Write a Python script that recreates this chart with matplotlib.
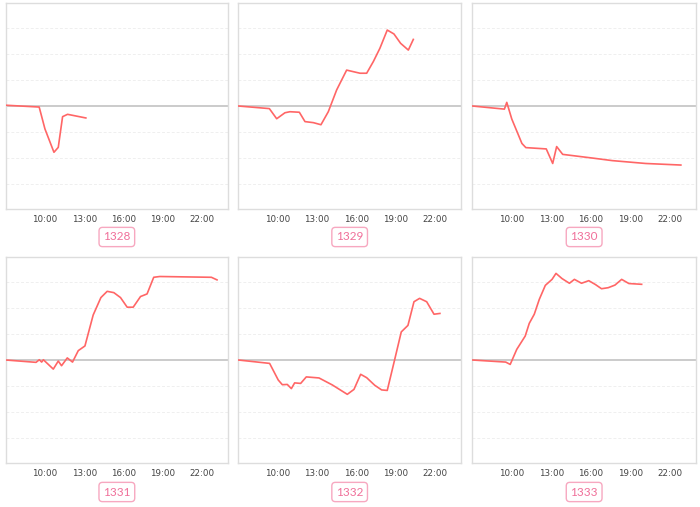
import matplotlib
matplotlib.use("Agg")
import matplotlib.pyplot as plt

labels = ["1328", "1329", "1330", "1331", "1332", "1333"]

t1 = [7.0, 9.56, 10.0, 10.69, 11.02, 11.35, 11.73, 13.13]
v1 = [0.03, -0.04, -0.88, -1.78, -1.59, -0.41, -0.32, -0.46]

t2 = [7.0, 9.37, 9.93, 10.56, 10.94, 11.66, 12.09, 12.73, 13.31, 13.87, 14.51, 15.27,
      16.29, 16.80, 17.31, 17.81, 18.37, 18.88, 19.39, 19.98, 20.36]
v2 = [0.0, -0.10, -0.49, -0.26, -0.22, -0.24, -0.60, -0.64, -0.72, -0.22, 0.62, 1.38,
      1.26, 1.26, 1.71, 2.22, 2.92, 2.77, 2.41, 2.15, 2.56]

t3 = [7.0, 9.44, 9.62, 10.0, 10.77, 11.07, 12.62, 13.11, 13.41, 13.87, 16.11, 17.64, 20.18, 22.85]
v3 = [0.0, -0.12, 0.14, -0.5, -1.44, -1.60, -1.65, -2.21, -1.56, -1.86, -2.0, -2.10, -2.21, -2.27]

t4 = [7.0, 9.32, 9.57, 9.75, 9.88, 10.64, 11.02, 11.27, 11.71, 12.11, 12.55, 13.06, 13.69,
      14.28, 14.76, 15.27, 15.78, 16.29, 16.75, 17.31, 17.81, 18.32, 18.78, 22.73, 23.16]
v4 = [0.0, -0.09, 0.01, -0.08, 0.01, -0.35, -0.04, -0.22, 0.08, -0.08, 0.36, 0.54, 1.73,
      2.40, 2.64, 2.59, 2.40, 2.03, 2.03, 2.44, 2.54, 3.18, 3.21, 3.18, 3.08]

t5 = [7.0, 9.39, 9.72, 10.05, 10.36, 10.74, 11.05, 11.30, 11.76, 12.19, 13.16, 14.18, 15.32,
      15.83, 16.34, 16.80, 17.41, 17.94, 18.37, 18.93, 19.44, 19.95, 20.41, 20.84, 21.38,
      21.94, 22.39]
v5 = [0.0, -0.13, -0.45, -0.77, -0.95, -0.94, -1.10, -0.88, -0.90, -0.65, -0.69, -0.96, -1.32,
      -1.13, -0.55, -0.68, -0.97, -1.15, -1.17, 0.0, 1.08, 1.33, 2.24, 2.37, 2.24,
      1.76, 1.79]

t6 = [7.0, 9.54, 9.88, 10.38, 11.02, 11.33, 11.71, 12.09, 12.55, 13.06, 13.36, 13.82, 14.38,
      14.76, 15.30, 15.85, 16.36, 16.82, 17.33, 17.84, 18.35, 18.90, 19.87]
v6 = [0.0, -0.08, -0.17, 0.41, 0.92, 1.41, 1.76, 2.33, 2.87, 3.10, 3.33, 3.13, 2.95,
      3.10, 2.95, 3.05, 2.90, 2.74, 2.78, 2.88, 3.10, 2.94, 2.91]

series = [(t1, v1), (t2, v2), (t3, v3), (t4, v4), (t5, v5), (t6, v6)]
tick_hours = [10, 13, 16, 19, 22]
tick_labels = ["10:00", "13:00", "16:00", "19:00", "22:00"]

W, H = 700, 507
fig = plt.figure(figsize=(7, 5.07), dpi=100)
fig.patch.set_facecolor("white")

lefts = [5.7, 238.3, 472.3]
rights = [228.0, 461.0, 696.0]
tops = [3.0, 257.0]
bottoms = [209.0, 463.0]
label_y = [237.0, 492.0]

line_color = "#ff6666"

for i, (t, v) in enumerate(series):
    r, c = divmod(i, 3)
    l, rr = lefts[c], rights[c]
    tp, bt = tops[r], bottoms[r]
    ax = fig.add_axes([l / W, 1 - bt / H, (rr - l) / W, (bt - tp) / H])
    ax.set_xlim(7, 24)
    ax.set_ylim(-3.96, 3.96)
    for g in [-3, -2, -1, 1, 2, 3]:
        ax.axhline(g, color="#efefef", lw=0.7, ls=(0, (3, 2)), zorder=1)
    ax.axhline(0, color="#bdbdbd", lw=1.1, zorder=2)
    ax.plot(t, v, color=line_color, lw=1.2, zorder=3, solid_joinstyle="round")
    ax.set_yticks([])
    ax.set_xticks(tick_hours)
    ax.set_xticklabels(tick_labels, fontsize=6.3, color="#444444")
    ax.tick_params(axis="x", length=0, pad=4)
    for s in ax.spines.values():
        s.set_color("#dddddd")
        s.set_linewidth(1.0)
    cx = (l + rr) / 2 / W
    fig.text(cx, 1 - label_y[r] / H, labels[i], ha="center", va="center",
             fontsize=8.5, color="#f0709a", family="Lato",
             bbox=dict(boxstyle="round,pad=0.35,rounding_size=0.3",
                       fc="white", ec="#f7a8c0", lw=1.0))

fig.savefig("out.png", dpi=100, facecolor="white")
